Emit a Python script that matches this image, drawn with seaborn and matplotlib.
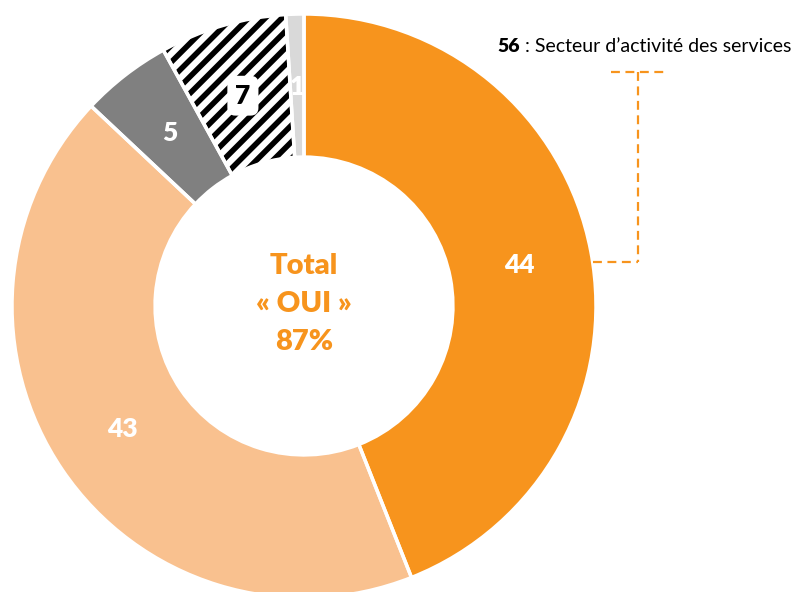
import numpy as np
import matplotlib
matplotlib.use("Agg")
import matplotlib.pyplot as plt
import seaborn as sns

# data
values = [44, 43, 5, 7, 1]
colors = ["#F7941D", "#F9C18F", "#808080", "#FFFFFF", "#D9D9D9"]
hatches = [None, None, None, "//", None]
total_label = ["Total", "« OUI »", "87%"]
note_value = "56"
note_text = " : Secteur d’activité des services"

sns.set_theme(style="white")
plt.rcParams["font.family"] = ["Lato", "DejaVu Sans"]
plt.rcParams["hatch.linewidth"] = 4

fig = plt.figure(figsize=(7.97, 5.92), dpi=100)
R = 292
cx, cy = 304, 592 - 306
ax = fig.add_axes([(cx - R) / 797, (cy - R) / 592, 2 * R / 797, 2 * R / 592])

# filled wedges (hatch drawn in black edge colour, no outline)
wedges, _ = ax.pie(values, colors=colors, startangle=90, counterclock=False,
                   radius=1, wedgeprops=dict(width=0.49, edgecolor="black", linewidth=0))
for w, h in zip(wedges, hatches):
    if h:
        w.set_hatch(h)
# white separators on top
ax.pie(values, colors=["none"] * len(values), startangle=90, counterclock=False,
       radius=1, wedgeprops=dict(width=0.49, edgecolor="white", linewidth=2.5))
ax.set_xlim(-1, 1)
ax.set_ylim(-1, 1)
ax.set_aspect("equal")
ax.axis("off")

# value labels
start = 90
cum = 0
for i, v in enumerate(values):
    mid = np.deg2rad(start - 360 * (cum + v / 2) / sum(values))
    cum += v
    x, y = 0.75 * np.cos(mid), 0.75 * np.sin(mid)
    if hatches[i]:
        ax.text(x, y, str(v), ha="center", va="center", fontsize=19, fontweight="heavy",
                color="black", bbox=dict(boxstyle="round,pad=0.3", fc="white", ec="none"))
    else:
        ax.text(x, y, str(v), ha="center", va="center", fontsize=19, fontweight="heavy",
                color="white")

# center text
for k, line in enumerate(total_label):
    ax.text(0, 0.137 - k * 0.13, line, ha="center", va="center", fontsize=21,
            fontweight="heavy", color="#F7941D")

# annotation
orange = "#F7941D"
t1 = fig.text(497 / 797, 1 - 46 / 592, note_value, fontsize=14, fontweight="heavy",
              va="center", ha="left", color="black")
fig.canvas.draw()
bb = t1.get_window_extent(fig.canvas.get_renderer())
fig.text(bb.x1 / 797, 1 - 46 / 592, note_text, fontsize=14, va="center", ha="left",
         color="black")

dash = dict(ls="--", color=orange, lw=1.6, dashes=(4, 2.5), clip_on=False)
ax.plot([(611 - cx) / R, (667 - cx) / R], [(306 - 72) / R] * 2, **dash)
ax.plot([(638 - cx) / R] * 2, [(306 - 72) / R, (306 - 262) / R], **dash)
ax.plot([(593 - cx) / R, (638 - cx) / R], [(306 - 262) / R] * 2, **dash)

fig.savefig("out.png", dpi=100)
